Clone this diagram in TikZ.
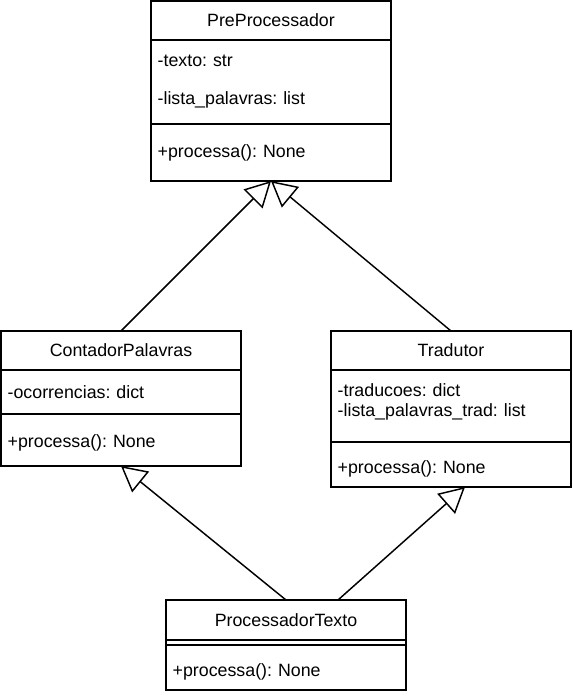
\documentclass[tikz,border=0pt]{standalone}
\usepackage{fontspec}
\setmainfont{Liberation Sans}
\usetikzlibrary{positioning,arrows.meta}
\newcommand{\clsfont}{\fontsize{13.35pt}{15.5pt}\selectfont}
\frenchspacing

\begin{document}
\begin{tikzpicture}[x=0.75pt, y=-0.75pt, line width=1.1pt,
    inherits/.style={-{Triangle[open, length=19pt, width=20pt]}},
    title node/.style={draw, outer sep=0pt, inner sep=0pt, minimum width=180pt, minimum height=29.25pt, font=\clsfont},
    part node/.style={draw, outer sep=0pt, inner xsep=5pt, inner ysep=0pt, minimum width=180pt, text width=170pt, align=left, font=\clsfont}]
        \useasboundingbox (0,0) rectangle (572,696);

          % PreProcessador
          \node[title node] (pre) at (271,20.5) {PreProcessador};
          \node[part node, minimum height=63pt] (pre-attr) [below=0pt of pre] {-texto: str\\[13pt]-lista\_palavras: list};
          \node[part node, minimum height=42.75pt] (pre-meth) [below=0pt of pre-attr] {+processa(): None};

          % ContadorPalavras
          \node[title node] (cont) at (121,350.5) {ContadorPalavras};
          \node[part node, minimum height=33pt] (cont-attr) [below=0pt of cont] {-ocorrencias: dict};
          \node[part node, minimum height=39pt, text height=14pt, text depth=3pt] (cont-meth) [below=0pt of cont-attr] {+processa(): None};

          % Tradutor
          \node[title node] (trad) at (451,350.5) {Tradutor};
          \node[part node, minimum height=54pt] (trad-attr) [below=0pt of trad] {-traducoes: dict\\-lista\_palavras\_trad: list\\[-6.5pt]\mbox{}};
          \node[part node, minimum height=33.75pt, text height=16pt, text depth=3pt] (trad-meth) [below=0pt of trad-attr] {+processa(): None};

          % ProcessadorTexto
          \node[title node, minimum height=30pt] (proc) at (286,620) {ProcessadorTexto};
          \node[part node, minimum height=3.75pt] (proc-attr) [below=0pt of proc] {};
          \node[part node, minimum height=33.75pt, text height=16pt, text depth=3pt] (proc-meth) [below=0pt of proc-attr] {+processa(): None};

          \path[inherits]
            (cont.north) edge (pre-meth.south)
            (trad.north) edge (pre-meth.south)
            (proc.north) edge (cont-meth.south)
            ([xshift=39pt]proc.north) edge ([xshift=10.5pt]trad-meth.south);

        \end{tikzpicture}
\end{document}
